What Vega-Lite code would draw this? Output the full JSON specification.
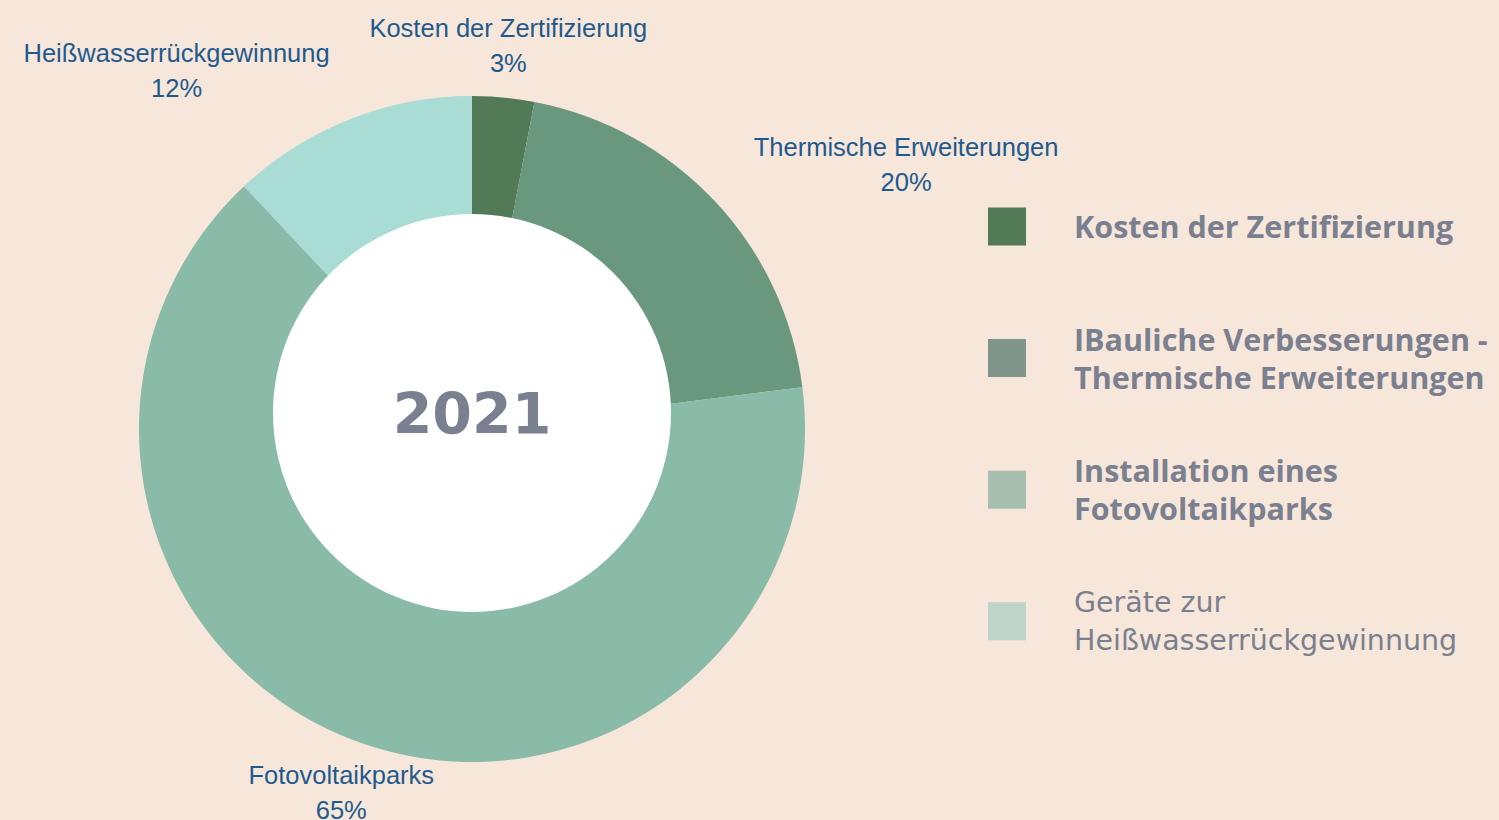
{
  "$schema": "https://vega.github.io/schema/vega-lite/v6.json",
  "background": "#f7e6da",
  "padding": {"left": 0, "top": 15, "right": 20, "bottom": 0},
  "spacing": 0,
  "bounds": "flush",
  "config": {"view": {"stroke": null}, "concat": {"spacing": 0}},
  "datasets": {
    "slices": [
      {"slice": "Kosten der Zertifizierung", "label": "Kosten der Zertifizierung\n3%", "legend": "Kosten der Zertifizierung", "value": 3},
      {"slice": "Thermische Erweiterungen", "label": "Thermische Erweiterungen\n20%", "legend": "IBauliche Verbesserungen -\nThermische Erweiterungen", "value": 20},
      {"slice": "Fotovoltaikparks", "label": "Fotovoltaikparks\n65%", "legend": "Installation eines\nFotovoltaikparks", "value": 65},
      {"slice": "Heißwasserrückgewinnung", "label": "Heißwasserrückgewinnung\n12%", "legend": "Geräte zur\nHeißwasserrückgewinnung", "value": 12}
    ],
    "center": [{"year": "2021"}]
  },
  "hconcat": [
    {
      "width": 944,
      "height": 784,
      "layer": [
        {
          "data": {"name": "slices"},
          "transform": [{"window": [{"op": "row_number", "as": "i"}]}],
          "mark": {"type": "arc", "outerRadius": 333},
          "encoding": {
            "theta": {"field": "value", "type": "quantitative", "stack": true},
            "order": {"field": "i", "type": "quantitative"},
            "color": {
              "field": "slice",
              "type": "nominal",
              "scale": {
                "domain": ["Kosten der Zertifizierung", "Thermische Erweiterungen", "Fotovoltaikparks", "Heißwasserrückgewinnung"],
                "range": ["#527a57", "#6a987f", "#8abaa8", "#a8dcd4"]
              },
              "legend": null
            }
          }
        },
        {
          "data": {"name": "center"},
          "mark": {"type": "arc", "outerRadius": 199, "theta": 0, "theta2": 6.2832, "fill": "#ffffff", "yOffset": -16},
          "encoding": {}
        },
        {
          "data": {"name": "center"},
          "mark": {"type": "text", "font": "DejaVu Sans", "fontWeight": "bold", "fontSize": 57, "fill": "#7a8090", "baseline": "middle", "align": "center", "dy": -12},
          "encoding": {"text": {"field": "year", "type": "nominal"}}
        },
        {
          "data": {"name": "slices"},
          "transform": [{"window": [{"op": "row_number", "as": "i"}]}],
          "mark": {"type": "text", "radius": 386, "font": "Liberation Sans", "fontSize": 25.5, "lineHeight": 35, "lineBreak": "\n", "fill": "#1f5a8e", "align": "center", "baseline": "middle", "dy": -16},
          "encoding": {
            "theta": {"field": "value", "type": "quantitative", "stack": true},
            "order": {"field": "i", "type": "quantitative"},
            "text": {"condition": {"test": "datum.slice === 'Kosten der Zertifizierung' || datum.slice === 'Fotovoltaikparks'", "field": "label", "type": "nominal"}, "value": ""}
          }
        },
        {
          "data": {"name": "slices"},
          "transform": [{"window": [{"op": "row_number", "as": "i"}]}],
          "mark": {"type": "text", "radius": 387, "font": "Liberation Sans", "fontSize": 25.5, "lineHeight": 35, "lineBreak": "\n", "fill": "#1f5a8e", "align": "center", "baseline": "middle", "dx": 152, "dy": -16.5},
          "encoding": {
            "theta": {"field": "value", "type": "quantitative", "stack": true},
            "order": {"field": "i", "type": "quantitative"},
            "text": {"condition": {"test": "datum.slice === 'Thermische Erweiterungen'", "field": "label", "type": "nominal"}, "value": ""}
          }
        },
        {
          "data": {"name": "slices"},
          "transform": [{"window": [{"op": "row_number", "as": "i"}]}],
          "mark": {"type": "text", "radius": 387, "font": "Liberation Sans", "fontSize": 25.5, "lineHeight": 35, "lineBreak": "\n", "fill": "#1f5a8e", "align": "center", "baseline": "middle", "dx": -153, "dy": -15.5},
          "encoding": {
            "theta": {"field": "value", "type": "quantitative", "stack": true},
            "order": {"field": "i", "type": "quantitative"},
            "text": {"condition": {"test": "datum.slice === 'Heißwasserrückgewinnung'", "field": "label", "type": "nominal"}, "value": ""}
          }
        }
      ]
    },
    {
      "width": 126,
      "height": 658,
      "data": {"name": "slices"},
      "layer": [
        {
          "mark": {"type": "point", "shape": "square", "size": 1444, "filled": true, "opacity": 1},
          "encoding": {
            "y": {
              "field": "legend",
              "type": "nominal",
              "scale": {"type": "point", "padding": 1, "align": 0.72, "domain": ["Kosten der Zertifizierung", "IBauliche Verbesserungen -\nThermische Erweiterungen", "Installation eines\nFotovoltaikparks", "Geräte zur\nHeißwasserrückgewinnung"]},
              "axis": null
            },
            "color": {
              "field": "legend",
              "type": "nominal",
              "scale": {
                "domain": ["Kosten der Zertifizierung", "IBauliche Verbesserungen -\nThermische Erweiterungen", "Installation eines\nFotovoltaikparks", "Geräte zur\nHeißwasserrückgewinnung"],
                "range": ["#527a57", "#80968a", "#a7bdb0", "#bfd4c8"]
              },
              "legend": null
            }
          }
        },
        {
          "transform": [{"filter": "datum.slice === 'Kosten der Zertifizierung'"}],
          "mark": {"type": "text", "align": "left", "baseline": "middle", "dx": 67, "dy": 2, "font": "Open Sans", "fontWeight": "bold", "fontSize": 30.5, "lineHeight": 38, "lineBreak": "\n", "fill": "#7a8090"},
          "encoding": {
            "y": {"field": "legend", "type": "nominal", "scale": {"type": "point", "padding": 1, "align": 0.72, "domain": ["Kosten der Zertifizierung", "IBauliche Verbesserungen -\nThermische Erweiterungen", "Installation eines\nFotovoltaikparks", "Geräte zur\nHeißwasserrückgewinnung"]}, "axis": null},
            "text": {"field": "legend", "type": "nominal"}
          }
        },
        {
          "transform": [{"filter": "datum.slice === 'Thermische Erweiterungen' || datum.slice === 'Fotovoltaikparks'"}],
          "mark": {"type": "text", "align": "left", "baseline": "middle", "dx": 67, "dy": -16.5, "font": "Open Sans", "fontWeight": "bold", "fontSize": 30.5, "lineHeight": 38, "lineBreak": "\n", "fill": "#7a8090"},
          "encoding": {
            "y": {"field": "legend", "type": "nominal", "scale": {"type": "point", "padding": 1, "align": 0.72, "domain": ["Kosten der Zertifizierung", "IBauliche Verbesserungen -\nThermische Erweiterungen", "Installation eines\nFotovoltaikparks", "Geräte zur\nHeißwasserrückgewinnung"]}, "axis": null},
            "text": {"field": "legend", "type": "nominal"}
          }
        },
        {
          "transform": [{"filter": "datum.slice === 'Heißwasserrückgewinnung'"}],
          "mark": {"type": "text", "align": "left", "baseline": "middle", "dx": 67, "dy": -18, "font": "DejaVu Sans", "fontSize": 28.5, "lineHeight": 38, "lineBreak": "\n", "fill": "#7a8090"},
          "encoding": {
            "y": {"field": "legend", "type": "nominal", "scale": {"type": "point", "padding": 1, "align": 0.72, "domain": ["Kosten der Zertifizierung", "IBauliche Verbesserungen -\nThermische Erweiterungen", "Installation eines\nFotovoltaikparks", "Geräte zur\nHeißwasserrückgewinnung"]}, "axis": null},
            "text": {"field": "legend", "type": "nominal"}
          }
        }
      ]
    }
  ],
  "resolve": {"scale": {"color": "independent"}}
}
